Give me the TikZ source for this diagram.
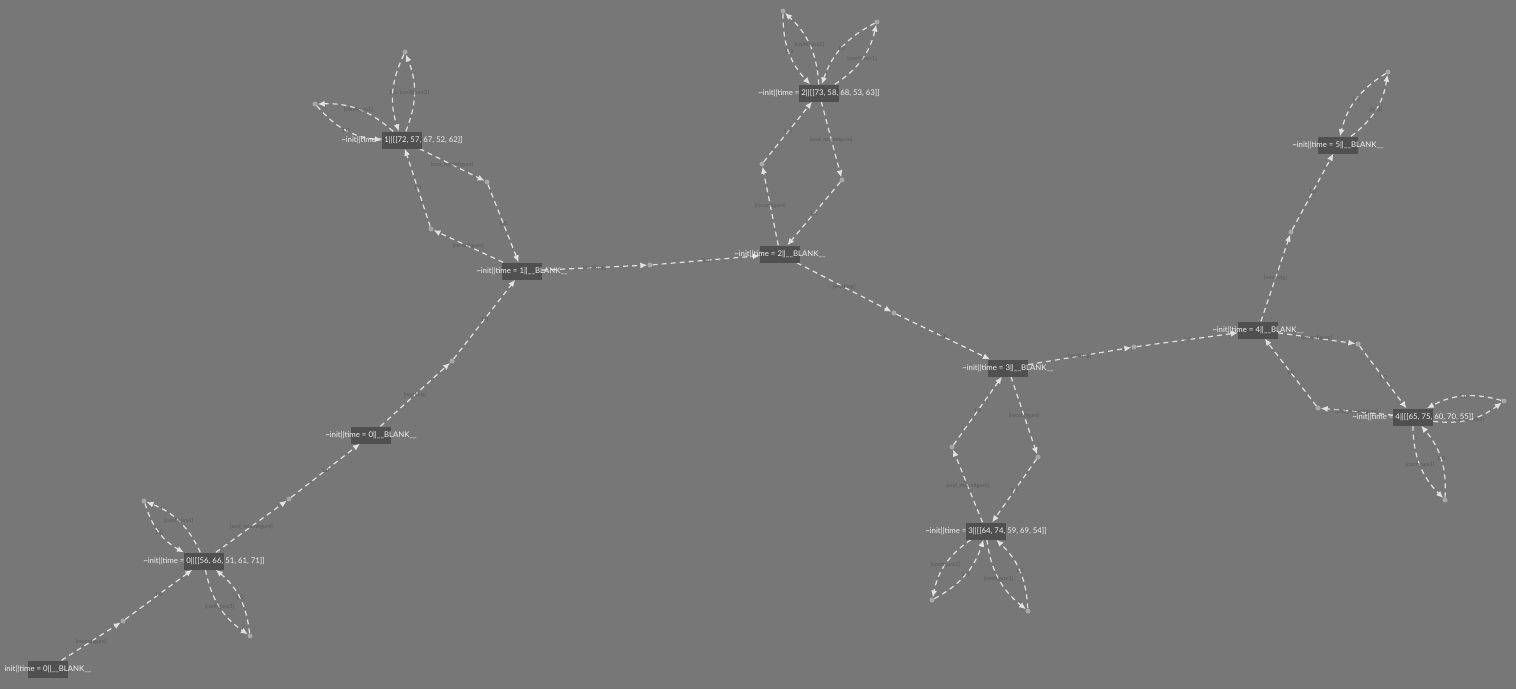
\documentclass[tikz,border=0pt]{standalone}
\usepackage{fontspec}
\setmainfont{Lato}
\usetikzlibrary{arrows.meta,backgrounds}
\definecolor{bggray}{HTML}{777777}
\definecolor{boxgray}{HTML}{505050}
\definecolor{edgegray}{HTML}{E2E2E2}
\definecolor{dotgray}{HTML}{A8A8A8}
\definecolor{labelgray}{HTML}{5A5A5A}
\tikzstyle{state}=[
	rectangle,
	fill=boxgray,
	minimum width=40,
	minimum height=17,
	inner sep=0]
\tikzstyle{stext}=[
	text=white!95!black,
	font=\fontsize{7.8}{8}\selectfont,
	inner sep=0]
\tikzstyle{act}=[
	circle,
	fill=dotgray,
	minimum size=5,
	inner sep=0]
\tikzstyle{trans}=[
	draw=edgegray,
	line width=1.2pt,
	dash pattern=on 5pt off 4pt,
	->]
\tikzstyle{lens}=[
	trans,
	bend right=22]
\tikzstyle{elabel}=[
	text=labelgray,
	font=\fontsize{5.6}{6}\selectfont,
	inner sep=0]

\begin{document}
\begin{tikzpicture}[x=1pt,y=-1pt,>={Latex[length=7pt,width=6pt]}]
	\begin{pgfonlayer}{background}
		\fill[bggray] (0,0) rectangle (1516,689);
	\end{pgfonlayer}
	\useasboundingbox (0,0) rectangle (1516,689);
	\begin{scope}
		\node[state,label={[stext]center:{init||time = 0||\_\_BLANK\_\_}}] (s0) at (48,669) {};
		\node[state,label={[stext]center:{\textasciitilde init||time = 0||[[56, 66, 51, 61, 71]]}}] (c0) at (204,561) {};
		\node[state,label={[stext]center:{\textasciitilde init||time = 0||\_\_BLANK\_\_}}] (b0) at (371,435) {};
		\node[state,label={[stext]center:{\textasciitilde init||time = 1||\_\_BLANK\_\_}}] (b1) at (522,271) {};
		\node[state,label={[stext]center:{\textasciitilde init||time = 1||[[72, 57, 67, 52, 62]]}}] (c1) at (402,140) {};
		\node[state,label={[stext]center:{\textasciitilde init||time = 2||\_\_BLANK\_\_}}] (b2) at (780,254) {};
		\node[state,label={[stext]center:{\textasciitilde init||time = 2||[[73, 58, 68, 53, 63]]}}] (c2) at (819,93) {};
		\node[state,label={[stext]center:{\textasciitilde init||time = 3||\_\_BLANK\_\_}}] (b3) at (1008,368) {};
		\node[state,label={[stext]center:{\textasciitilde init||time = 3||[[64, 74, 59, 69, 54]]}}] (c3) at (986,531) {};
		\node[state,label={[stext]center:{\textasciitilde init||time = 4||\_\_BLANK\_\_}}] (b4) at (1258,330) {};
		\node[state,label={[stext]center:{\textasciitilde init||time = 4||[[65, 75, 60, 70, 55]]}}] (c4) at (1413,417) {};
		\node[state,label={[stext]center:{\textasciitilde init||time = 5||\_\_BLANK\_\_}}] (b5) at (1338,145) {};
	\end{scope}
	\begin{scope}
		\node[act] (rc0) at (123,621) {};
		\node[act] (cfa0) at (144,501) {};
		\node[act] (cfb0) at (250,636) {};
		\node[act] (er0) at (289,499) {};
		\node[act] (wk0) at (452,361) {};
		\node[act] (rc1) at (431,229) {};
		\node[act] (er1) at (487,182) {};
		\node[act] (cfa1) at (315,104) {};
		\node[act] (cfb1) at (405,52) {};
		\node[act] (wk1) at (650,265) {};
		\node[act] (rc2) at (762,164) {};
		\node[act] (er2) at (842,180) {};
		\node[act] (cfb2) at (783,11) {};
		\node[act] (cfa2) at (877,22) {};
		\node[act] (wk2) at (894,313) {};
		\node[act] (rc3) at (1038,457) {};
		\node[act] (er3) at (952,447) {};
		\node[act] (cfb3) at (932,600) {};
		\node[act] (cfa3) at (1028,611) {};
		\node[act] (wk3) at (1134,347) {};
		\node[act] (rc4) at (1358,344) {};
		\node[act] (er4) at (1318,408) {};
		\node[act] (cfb4) at (1504,401) {};
		\node[act] (cfa4) at (1445,500) {};
		\node[act] (wk4) at (1291,232) {};
		\node[act] (ed5) at (1388,72) {};
	\end{scope}
	\begin{scope}[on background layer]
		\draw[trans] (s0) -- node[elabel]{[reconfigure]} (rc0);
		\draw[trans] (rc0) -- node[elabel]{1.0} (c0);
		\draw[lens] (c0) to node[elabel]{[configure1]} (cfa0);
		\draw[lens] (cfa0) to node[elabel]{1.0} (c0);
		\draw[lens] (c0) to node[elabel]{[configure2]} (cfb0);
		\draw[lens] (cfb0) to node[elabel]{1.0} (c0);
		\draw[trans] (c0) -- node[elabel]{[end\_reconfigure]} (er0);
		\draw[trans] (er0) -- node[elabel]{1.0} (b0);
		\draw[trans] (b0) -- node[elabel]{[working]} (wk0);
		\draw[trans] (wk0) -- node[elabel]{1.0} (b1);

		\draw[trans] (b1) -- node[elabel]{[reconfigure]} (rc1);
		\draw[trans] (rc1) -- node[elabel]{1.0} (c1);
		\draw[trans] (c1) -- node[elabel]{[end\_reconfigure]} (er1);
		\draw[trans] (er1) -- node[elabel]{1.0} (b1);
		\draw[lens] (c1) to node[elabel]{[configure1]} (cfa1);
		\draw[lens] (cfa1) to node[elabel]{1.0} (c1);
		\draw[lens] (c1) to node[elabel]{[configure2]} (cfb1);
		\draw[lens] (cfb1) to node[elabel]{1.0} (c1);
		\draw[trans] (b1) -- node[elabel]{[working]} (wk1);
		\draw[trans] (wk1) -- node[elabel]{1.0} (b2);

		\draw[trans] (b2) -- node[elabel]{[reconfigure]} (rc2);
		\draw[trans] (rc2) -- node[elabel]{1.0} (c2);
		\draw[trans] (c2) -- node[elabel]{[end\_reconfigure]} (er2);
		\draw[trans] (er2) -- node[elabel]{1.0} (b2);
		\draw[lens] (c2) to node[elabel]{[configure2]} (cfb2);
		\draw[lens] (cfb2) to node[elabel]{1.0} (c2);
		\draw[lens] (c2) to node[elabel]{[configure1]} (cfa2);
		\draw[lens] (cfa2) to node[elabel]{1.0} (c2);
		\draw[trans] (b2) -- node[elabel]{[working]} (wk2);
		\draw[trans] (wk2) -- node[elabel]{1.0} (b3);

		\draw[trans] (b3) -- node[elabel]{[reconfigure]} (rc3);
		\draw[trans] (rc3) -- node[elabel]{1.0} (c3);
		\draw[trans] (c3) -- node[elabel]{[end\_reconfigure]} (er3);
		\draw[trans] (er3) -- node[elabel]{1.0} (b3);
		\draw[lens] (c3) to node[elabel]{[configure2]} (cfb3);
		\draw[lens] (cfb3) to node[elabel]{1.0} (c3);
		\draw[lens] (c3) to node[elabel]{[configure1]} (cfa3);
		\draw[lens] (cfa3) to node[elabel]{1.0} (c3);
		\draw[trans] (b3) -- node[elabel]{[working]} (wk3);
		\draw[trans] (wk3) -- node[elabel]{1.0} (b4);

		\draw[trans] (b4) -- node[elabel]{[reconfigure]} (rc4);
		\draw[trans] (rc4) -- node[elabel]{1.0} (c4);
		\draw[trans] (c4) -- node[elabel]{[end\_reconfigure]} (er4);
		\draw[trans] (er4) -- node[elabel]{1.0} (b4);
		\draw[lens] (c4) to node[elabel]{[configure2]} (cfb4);
		\draw[lens] (cfb4) to node[elabel]{1.0} (c4);
		\draw[lens] (c4) to node[elabel]{[configure1]} (cfa4);
		\draw[lens] (cfa4) to node[elabel]{1.0} (c4);
		\draw[trans] (b4) -- node[elabel]{[working]} (wk4);
		\draw[trans] (wk4) -- node[elabel]{1.0} (b5);

		\draw[lens] (b5) to node[elabel]{[end]} (ed5);
		\draw[lens] (ed5) to node[elabel]{1.0} (b5);
	\end{scope}
\end{tikzpicture}
\end{document}
